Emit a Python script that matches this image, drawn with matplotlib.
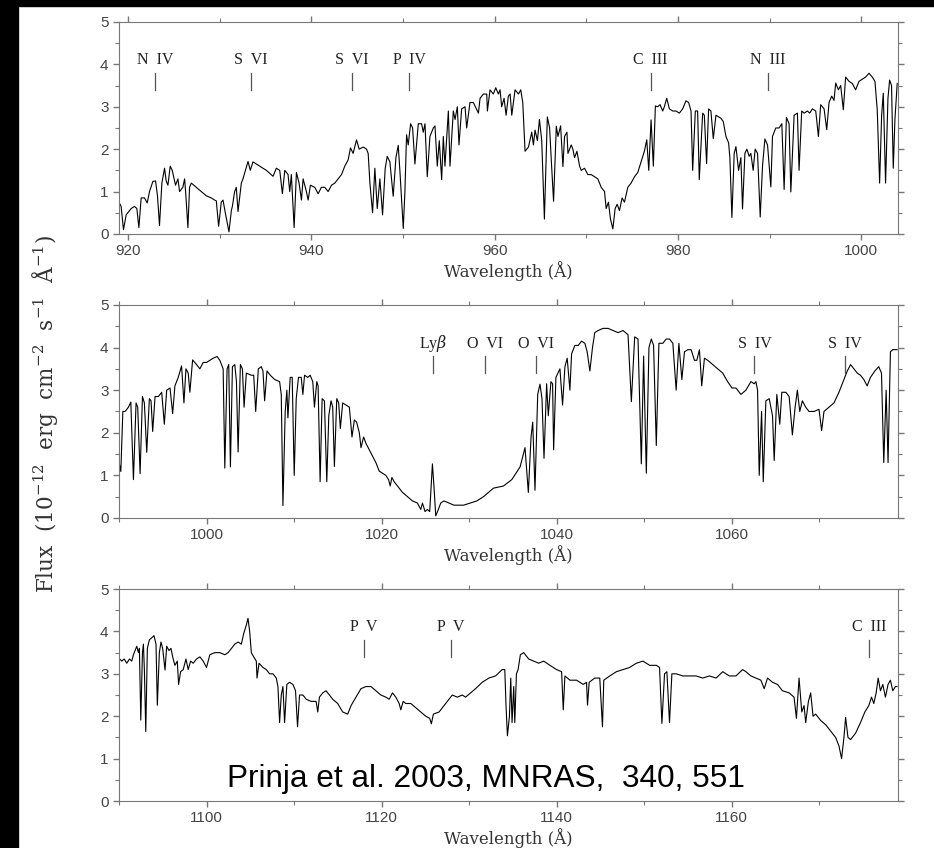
import matplotlib
matplotlib.use("Agg")
import matplotlib.pyplot as plt
from matplotlib.patches import Rectangle
from matplotlib.ticker import MultipleLocator

plt.rcParams['mathtext.fontset'] = 'dejavuserif'

# panel 1: 919 - 1004 A
wl1 = [919.0, 919.23, 919.49, 919.78, 920.33, 920.69, 920.95, 921.17, 921.42, 921.79,
       922.08, 922.33, 922.70, 922.99, 923.2, 923.42, 923.68, 923.97, 924.15, 924.34,
       924.59, 924.81, 925.17, 925.43, 925.61, 925.97, 926.16, 926.27, 926.52, 926.70,
       926.89, 927.43, 927.98, 928.53, 929.07, 929.43, 929.62, 929.87, 930.16, 930.35,
       930.6, 931.00, 931.26, 931.37, 931.62, 931.80, 931.99, 932.35, 932.53, 933.08,
       933.33, 933.62, 933.99, 934.35, 934.72, 935.08, 935.81, 936.17, 936.54, 936.83,
       937.09, 937.45, 937.63, 937.81, 938.11, 938.36, 938.65, 938.91, 939.09, 939.45,
       939.64, 939.89, 940.36, 940.73, 941.09, 941.46, 941.82, 942.19, 942.55, 942.91,
       943.28, 943.64, 944.01, 944.26, 944.55, 944.92, 945.21, 945.65, 946.01, 946.19,
       946.38, 946.67, 946.92, 947.18, 947.47, 947.76, 948.05, 948.27, 948.56, 948.92,
       949.22, 949.47, 949.65, 950.02, 950.20, 950.38, 950.56, 950.82, 951.04, 951.29,
       951.66, 952.02, 952.20, 952.39, 952.64, 952.93, 953.30, 953.48, 953.73, 953.95,
       954.21, 954.39, 954.57, 954.94, 955.12, 955.48, 955.67, 955.92, 956.10, 956.39,
       956.76, 956.94, 957.30, 957.67, 958.22, 958.40, 958.76, 959.13, 959.20, 959.49,
       959.85, 960.11, 960.40, 960.58, 960.76, 961.02, 961.24, 961.49, 961.68, 961.86,
       962.04, 962.22, 962.59, 962.84, 963.06, 963.31, 963.68, 964.04, 964.22, 964.40,
       964.66, 964.88, 965.13, 965.42, 965.74, 965.99, 966.17, 966.42, 966.72, 966.90,
       967.19, 967.44, 967.62, 967.88, 967.99, 968.35, 968.53, 968.71, 968.97, 969.26,
       969.44, 969.80, 970.16, 970.53, 970.89, 971.25, 971.62, 971.98, 972.16, 972.41,
       972.63, 972.89, 973.14, 973.36, 973.61, 973.90, 974.16, 974.52, 974.88, 975.25,
       975.61, 975.97, 976.33, 976.59, 976.81, 977.06, 977.31, 977.53, 977.79, 978.04,
       978.33, 978.51, 978.77, 979.06, 979.42, 979.78, 980.15, 980.51, 980.87, 981.16,
       981.42, 981.60, 981.89, 982.14, 982.32, 982.69, 982.87, 983.12, 983.34, 983.59,
       983.85, 984.14, 984.68, 984.94, 985.23, 985.52, 985.66, 985.88, 986.13, 986.32,
       986.61, 986.86, 987.04, 987.30, 987.51, 987.77, 987.95, 988.20, 988.42, 988.68,
       988.97, 989.22, 989.48, 989.77, 990.13, 990.31, 990.67, 991.03, 991.33, 991.58,
       991.83, 992.12, 992.31, 992.67, 993.03, 993.21, 993.50, 993.76, 994.12, 994.37,
       994.66, 995.03, 995.32, 995.57, 995.94, 996.23, 996.48, 996.77, 997.02, 997.21,
       997.50, 997.75, 998.04, 998.29, 998.66, 999.02, 999.38, 999.75, 1000.11, 1000.47,
       1000.84, 1001.20, 1001.49, 1001.74, 1002.00, 1002.22, 1002.40, 1002.65, 1002.91, 1003.09,
       1003.30, 1003.49, 1003.67, 1003.92]
fx1 = [0.75, 0.65, 0.10, 0.45, 0.60, 0.65, 0.60, 0.15, 0.85, 0.85,
       0.73, 1.00, 1.24, 1.25, 0.90, 0.20, 1.20, 1.55, 1.25, 1.15,
       1.60, 1.50, 1.15, 1.30, 1.00, 1.10, 1.30, 1.00, 0.15, 1.10,
       1.20, 1.10, 1.00, 0.90, 0.85, 0.80, 0.78, 0.18, 0.75, 0.80,
       0.50, 0.05, 0.55, 0.65, 1.00, 1.10, 0.53, 1.20, 1.30, 1.71,
       1.50, 1.70, 1.65, 1.60, 1.55, 1.50, 1.36, 1.55, 1.50, 0.95,
       1.50, 1.40, 1.00, 1.40, 0.15, 1.45, 1.20, 0.80, 1.30, 1.00,
       0.80, 1.15, 1.10, 0.95, 1.10, 1.10, 1.00, 1.15, 1.20, 1.30,
       1.40, 1.60, 1.75, 2.03, 1.90, 2.22, 2.00, 2.05, 2.00, 1.90,
       1.20, 0.50, 1.55, 0.60, 1.30, 0.45, 1.55, 1.83, 1.70, 0.89,
       1.80, 2.09, 1.50, 0.13, 1.00, 2.34, 2.10, 2.60, 2.50, 1.65,
       2.60, 2.60, 2.40, 2.60, 1.35, 2.30, 2.50, 2.55, 1.60, 2.20,
       1.28, 2.30, 1.60, 2.90, 1.60, 2.90, 2.70, 3.00, 2.10, 2.95,
       3.00, 2.50, 3.10, 3.10, 2.85, 3.20, 3.30, 3.30, 2.90, 3.40,
       3.30, 3.45, 3.30, 3.40, 3.00, 3.20, 2.80, 3.25, 3.30, 2.80,
       3.10, 3.40, 3.30, 3.40, 3.10, 1.95, 2.05, 2.40, 2.10, 2.45,
       2.20, 2.70, 2.20, 0.35, 2.76, 2.50, 1.75, 0.77, 2.54, 2.30,
       2.55, 1.59, 2.30, 2.40, 1.90, 2.10, 2.00, 1.80, 1.95, 1.60,
       1.50, 1.55, 1.40, 1.40, 1.35, 1.30, 1.10, 1.00, 0.60, 0.75,
       0.35, 0.12, 0.60, 0.70, 0.55, 0.85, 0.75, 1.10, 1.20, 1.35,
       1.45, 1.70, 1.95, 2.22, 1.50, 2.69, 1.60, 3.02, 3.00, 3.05,
       2.90, 3.00, 3.20, 2.95, 2.90, 2.90, 2.85, 2.95, 3.14, 3.10,
       2.90, 1.50, 2.90, 2.90, 1.28, 2.85, 2.80, 1.66, 2.95, 2.90,
       2.25, 2.80, 2.73, 2.65, 2.30, 2.15, 1.80, 0.39, 1.90, 2.06,
       1.50, 1.80, 0.59, 1.90, 2.00, 1.83, 1.90, 1.50, 2.00, 1.90,
       0.40, 1.60, 2.24, 2.10, 1.11, 2.30, 2.50, 2.50, 2.60, 1.05,
       2.75, 2.60, 0.99, 2.80, 2.85, 1.50, 2.90, 2.85, 2.90, 2.85,
       2.95, 2.90, 2.30, 3.05, 2.95, 2.46, 3.10, 3.25, 3.15, 3.56,
       3.40, 3.50, 2.93, 3.70, 3.60, 3.55, 3.40, 3.60, 3.65, 3.70,
       3.79, 3.70, 3.60, 2.93, 1.20, 2.80, 3.32, 1.20, 3.20, 3.63,
       3.50, 1.55, 2.70, 3.55]

# panel 2: 990 - 1079 A
wl2 = [990.02, 990.21, 990.44, 990.70, 991.08, 991.35, 991.65, 991.95, 992.14, 992.41,
       992.68, 992.90, 993.17, 993.47, 993.66, 993.85, 994.12, 994.50, 994.88, 995.18,
       995.45, 995.83, 996.13, 996.39, 996.77, 997.15, 997.42, 997.65, 997.91, 998.10,
       998.41, 998.86, 999.24, 999.62, 1000.00, 1000.38, 1000.76, 1001.21, 1001.52, 1001.90,
       1002.09, 1002.35, 1002.54, 1002.73, 1002.96, 1003.23, 1003.42, 1003.61, 1003.87, 1004.10,
       1004.29, 1004.55, 1005.12, 1005.39, 1005.62, 1005.92, 1006.26, 1006.45, 1006.64, 1006.91,
       1007.29, 1007.78, 1008.35, 1008.54, 1008.73, 1008.99, 1009.18, 1009.30, 1009.56, 1009.79,
       1010.02, 1010.25, 1010.51, 1010.82, 1011.01, 1011.20, 1011.57, 1011.84, 1012.14, 1012.33,
       1012.60, 1012.75, 1012.98, 1013.21, 1013.47, 1013.74, 1013.97, 1014.23, 1014.42, 1014.61,
       1014.88, 1015.10, 1015.29, 1015.56, 1015.94, 1016.32, 1016.62, 1016.89, 1017.15, 1017.46,
       1017.65, 1017.95, 1018.22, 1018.60, 1018.98, 1019.35, 1019.73, 1020.11, 1020.49, 1020.80,
       1020.99, 1021.18, 1021.44, 1021.82, 1022.39, 1022.96, 1023.53, 1024.10, 1024.48, 1024.67,
       1024.97, 1025.24, 1025.50, 1025.81, 1026.00, 1026.19, 1026.49, 1026.76, 1027.13, 1027.70,
       1028.27, 1029.37, 1030.89, 1031.65, 1032.79, 1033.93, 1034.88, 1035.83, 1036.39, 1036.77,
       1037.08, 1037.27, 1037.53, 1037.84, 1038.10, 1038.33, 1038.56, 1038.86, 1039.05, 1039.35,
       1039.54, 1039.66, 1039.92, 1040.38, 1040.68, 1040.95, 1041.21, 1041.52, 1041.71, 1042.09,
       1042.47, 1042.85, 1043.23, 1043.49, 1043.80, 1044.10, 1044.36, 1044.74, 1045.31, 1045.88,
       1046.45, 1047.02, 1047.59, 1048.16, 1048.54, 1048.92, 1049.30, 1049.68, 1049.94, 1050.25,
       1050.55, 1050.82, 1051.08, 1051.39, 1051.69, 1052.14, 1052.52, 1052.90, 1053.28, 1053.66,
       1053.97, 1054.31, 1054.61, 1054.99, 1055.37, 1055.75, 1056.02, 1056.32, 1056.58, 1056.89,
       1057.27, 1057.84, 1058.41, 1058.98, 1059.54, 1060.04, 1060.49, 1061.06, 1061.63, 1062.20,
       1062.58, 1062.77, 1062.96, 1063.15, 1063.42, 1063.61, 1063.91, 1064.29, 1064.67, 1064.86,
       1065.16, 1065.50, 1065.73, 1066.19, 1066.57, 1066.94, 1067.25, 1067.51, 1067.78, 1068.08,
       1068.46, 1068.84, 1069.41, 1069.98, 1070.28, 1070.55, 1071.12, 1071.69, 1072.26, 1072.83,
       1073.21, 1073.59, 1073.97, 1074.35, 1074.72, 1075.10, 1075.48, 1075.86, 1076.36, 1076.81,
       1077.12, 1077.38, 1077.65, 1077.87, 1078.14, 1078.41, 1078.71, 1078.90]
fx2 = [1.30, 1.09, 2.50, 2.50, 2.60, 2.72, 0.90, 2.70, 2.60, 1.04,
       2.85, 2.70, 1.54, 2.80, 2.75, 2.03, 2.85, 2.85, 2.95, 2.20,
       3.00, 3.05, 2.45, 3.10, 3.30, 3.57, 2.70, 3.50, 3.40, 2.95,
       3.71, 3.60, 3.50, 3.65, 3.65, 3.70, 3.75, 3.79, 3.70, 3.50,
       1.17, 3.50, 3.60, 1.20, 3.55, 3.60, 3.20, 1.55, 3.60, 3.50,
       2.60, 3.40, 3.35, 3.35, 2.50, 3.50, 3.55, 3.45, 2.75, 3.45,
       3.35, 3.25, 3.20, 2.90, 0.29, 2.50, 3.00, 2.35, 3.30, 3.30,
       1.00, 2.80, 3.30, 3.30, 2.90, 3.35, 3.30, 3.35, 3.20, 2.60,
       3.20, 3.10, 0.85, 2.80, 2.75, 0.85, 2.40, 2.75, 2.60, 1.21,
       2.80, 2.70, 2.10, 2.70, 2.65, 2.60, 1.90, 2.30, 2.25, 2.00,
       1.65, 1.90, 1.75, 1.60, 1.45, 1.30, 1.10, 1.05, 1.00, 0.90,
       0.75, 0.95, 0.85, 0.75, 0.60, 0.50, 0.40, 0.35, 0.20, 0.35,
       0.15, 0.20, 0.15, 1.27, 0.70, 0.05, 0.20, 0.35, 0.40, 0.35,
       0.30, 0.30, 0.40, 0.50, 0.70, 0.75, 0.90, 1.20, 1.65, 0.60,
       1.90, 2.25, 0.65, 2.90, 3.14, 2.80, 1.40, 3.15, 2.40, 3.20,
       3.15, 1.60, 3.30, 3.50, 2.65, 3.55, 3.75, 3.00, 3.85, 4.05,
       4.05, 4.15, 4.10, 3.90, 3.45, 4.00, 4.35, 4.40, 4.45, 4.45,
       4.40, 4.35, 4.40, 4.30, 2.73, 4.25, 4.20, 1.27, 3.80, 1.05,
       4.00, 4.20, 4.05, 1.70, 4.10, 4.10, 4.20, 4.20, 4.10, 3.00,
       4.10, 3.25, 3.90, 3.95, 3.95, 3.70, 3.70, 3.95, 3.10, 3.75,
       3.70, 3.60, 3.50, 3.40, 3.20, 3.05, 3.05, 2.90, 3.00, 3.20,
       3.15, 3.20, 3.00, 1.00, 2.50, 0.85, 2.75, 2.80, 2.40, 1.35,
       2.90, 2.20, 2.95, 2.95, 2.85, 1.95, 2.60, 3.00, 2.50, 2.75,
       2.60, 2.50, 2.50, 2.55, 2.05, 2.50, 2.60, 2.70, 2.95, 3.25,
       3.45, 3.60, 3.50, 3.40, 3.35, 3.25, 3.10, 3.30, 3.45, 3.55,
       3.40, 1.30, 3.00, 1.30, 3.90, 3.95, 3.95, 3.95]

# panel 3: 1090 - 1179 A
wl3 = [1090.02, 1090.32, 1090.59, 1090.89, 1091.20, 1091.46, 1091.65, 1091.84, 1092.03, 1092.22,
       1092.33, 1092.49, 1092.68, 1092.79, 1092.90, 1093.06, 1093.24, 1093.47, 1093.74, 1094.00,
       1094.23, 1094.38, 1094.61, 1094.80, 1094.99, 1095.26, 1095.45, 1095.71, 1095.94, 1096.13,
       1096.39, 1096.66, 1096.81, 1097.04, 1097.34, 1097.65, 1097.91, 1098.18, 1098.48, 1098.86,
       1099.24, 1099.62, 1100.00, 1100.38, 1100.95, 1101.52, 1102.09, 1102.47, 1102.85, 1103.23,
       1103.61, 1103.98, 1104.25, 1104.55, 1104.74, 1104.93, 1105.12, 1105.39, 1105.69, 1105.77,
       1106.00, 1106.45, 1106.83, 1107.21, 1107.59, 1107.97, 1108.16, 1108.35, 1108.54, 1108.73,
       1108.92, 1109.18, 1109.49, 1109.87, 1110.17, 1110.40, 1110.63, 1111.01, 1111.39, 1111.95,
       1112.52, 1112.71, 1112.90, 1113.28, 1113.66, 1114.04, 1114.42, 1114.99, 1115.56, 1116.13,
       1116.51, 1117.08, 1117.65, 1118.22, 1118.79, 1119.35, 1119.92, 1120.49, 1120.87, 1121.25,
       1121.63, 1122.01, 1122.20, 1122.47, 1122.77, 1123.34, 1123.91, 1124.48, 1125.05, 1125.50,
       1125.69, 1125.92, 1126.57, 1127.32, 1128.08, 1128.65, 1129.22, 1129.60, 1130.17, 1130.74,
       1131.50, 1132.26, 1133.02, 1133.78, 1134.08, 1134.23, 1134.38, 1134.61, 1134.76, 1134.91,
       1135.10, 1135.22, 1135.41, 1135.60, 1135.86, 1136.24, 1136.81, 1137.38, 1137.95, 1138.52,
       1139.24, 1140.00, 1140.57, 1140.76, 1140.95, 1141.52, 1142.28, 1143.04, 1143.42, 1143.53,
       1143.72, 1144.36, 1144.93, 1145.24, 1145.39, 1146.07, 1146.83, 1147.59, 1148.35, 1149.11,
       1149.87, 1150.63, 1151.39, 1151.76, 1152.03, 1152.33, 1152.60, 1152.90, 1153.17, 1153.66,
       1154.42, 1155.18, 1155.94, 1156.70, 1157.46, 1158.22, 1158.98, 1159.73, 1160.49, 1161.25,
       1161.63, 1162.20, 1162.77, 1163.34, 1163.72, 1164.10, 1164.67, 1165.24, 1165.81, 1166.57,
       1167.13, 1167.40, 1167.70, 1168.01, 1168.27, 1168.46, 1168.77, 1169.03, 1169.30, 1169.60,
       1170.17, 1170.74, 1171.31, 1171.88, 1172.26, 1172.56, 1172.83, 1173.02, 1173.29, 1173.59,
       1174.16, 1174.72, 1175.22, 1175.67, 1175.98, 1176.24, 1176.51, 1176.74, 1177.00, 1177.27,
       1177.57, 1177.87, 1178.14, 1178.41, 1178.71, 1178.90]
fx3 = [3.36, 3.30, 3.35, 3.25, 3.35, 3.30, 3.45, 3.55, 3.65, 3.50,
       3.60, 1.91, 3.50, 3.70, 3.10, 1.64, 3.60, 3.80, 3.85, 3.90,
       3.70, 2.26, 3.50, 3.75, 3.60, 3.09, 3.65, 3.55, 3.60, 3.40,
       3.20, 3.30, 2.75, 3.05, 3.10, 3.35, 3.10, 3.30, 3.25, 3.35,
       3.40, 3.30, 3.15, 3.45, 3.50, 3.50, 3.45, 3.50, 3.60, 3.70,
       3.75, 3.70, 3.95, 4.15, 4.31, 4.00, 3.50, 3.40, 3.30, 2.90,
       3.25, 3.15, 3.10, 3.00, 3.00, 2.90, 2.70, 1.85, 2.50, 2.70,
       1.85, 2.75, 2.80, 2.75, 2.60, 1.75, 2.50, 2.50, 2.40, 2.35,
       2.35, 2.10, 2.45, 2.55, 2.60, 2.50, 2.40, 2.30, 2.10, 2.05,
       2.25, 2.45, 2.65, 2.70, 2.70, 2.60, 2.50, 2.45, 2.40, 2.55,
       2.45, 2.30, 2.15, 2.35, 2.30, 2.30, 2.20, 2.10, 2.00, 1.95,
       1.82, 2.05, 2.10, 2.30, 2.50, 2.45, 2.50, 2.45, 2.55, 2.65,
       2.80, 2.90, 2.95, 3.10, 3.10, 2.20, 1.54, 2.00, 2.90, 1.85,
       2.70, 1.85, 3.00, 3.10, 3.45, 3.50, 3.35, 3.30, 3.25, 3.30,
       3.20, 3.10, 3.05, 2.15, 2.95, 2.85, 2.85, 2.75, 2.80, 2.26,
       2.80, 2.90, 2.90, 1.75, 2.85, 2.95, 3.05, 3.10, 3.15, 3.25,
       3.30, 3.20, 3.20, 3.15, 1.83, 3.00, 3.05, 1.85, 3.00, 3.00,
       2.95, 2.95, 2.95, 2.90, 2.95, 2.90, 3.05, 2.95, 2.95, 3.10,
       3.05, 2.95, 2.90, 2.85, 2.65, 2.90, 2.80, 2.75, 2.60, 2.55,
       2.45, 1.95, 2.90, 2.10, 2.25, 1.85, 2.35, 2.55, 2.00, 2.05,
       1.90, 1.80, 1.65, 1.50, 1.30, 1.00, 1.50, 1.97, 1.50, 1.45,
       1.60, 1.85, 2.10, 2.25, 2.45, 2.30, 2.55, 2.90, 2.60, 2.75,
       2.45, 2.75, 2.85, 2.60, 2.70, 2.70]

# line identifications
ions1 = ['N  IV', 'S  VI', 'S  VI', 'P  IV', 'C  III', 'N  III']
ion_wl1 = [922.95, 933.4, 944.4, 950.7, 977.0, 989.8]
ions2 = [r'Ly$\beta$', 'O  VI', 'O  VI', 'S  IV', 'S  IV']
ion_wl2 = [1025.9, 1031.8, 1037.6, 1062.6, 1072.9]
ions3 = ['P  V', 'P  V', 'C  III']
ion_wl3 = [1118.0, 1127.9, 1175.7]

panels = [(wl1, fx1, (919, 1004), ions1, ion_wl1),
          (wl2, fx2, (990, 1079), ions2, ion_wl2),
          (wl3, fx3, (1090, 1179), ions3, ion_wl3)]
boxes = [[0.1274, 0.7241, 0.834, 0.250],
         [0.1274, 0.3892, 0.834, 0.2512],
         [0.1274, 0.0554, 0.834, 0.250]]

fig = plt.figure(figsize=(9.34, 8.48), dpi=100)

for box, (wl, fx, xlim, ions, iwl) in zip(boxes, panels):
    ax = fig.add_axes(box)
    ax.plot(wl, fx, color='k', lw=0.8)
    ax.set_xlim(xlim)
    ax.set_ylim(0, 5)
    ax.xaxis.set_major_locator(MultipleLocator(20))
    ax.xaxis.set_minor_locator(MultipleLocator(10))
    ax.yaxis.set_major_locator(MultipleLocator(1))
    ax.yaxis.set_minor_locator(MultipleLocator(0.5))
    ax.tick_params(which='both', direction='out', top=True, right=True,
                   color='#777', labelcolor='#444', labelsize=11)
    ax.tick_params(which='major', length=4.5, width=1, pad=3)
    ax.tick_params(which='minor', length=3, width=0.8)
    for lab in ax.get_xticklabels() + ax.get_yticklabels():
        lab.set_family('Liberation Sans')
    for s in ax.spines.values():
        s.set_color('#777')
    ax.set_xlabel('Wavelength (Å)', family='DejaVu Serif', fontsize=12,
                  color='#333', labelpad=2)
    for name, w in zip(ions, iwl):
        ax.plot([w, w], [3.4, 3.8], color='#555', lw=0.9)
        ax.text(w, 4.0, name, ha='center', va='baseline',
                family='Liberation Serif', fontsize=11.5, color='#222')

fig.text(0.048, 0.512,
         'Flux  (10$^{-12}$  erg  cm$^{-2}$  s$^{-1}$  Å$^{-1}$)',
         rotation=90, ha='center', va='center', family='DejaVu Serif',
         fontsize=15.5, color='#333')

fig.text(0.52, 0.072, 'Prinja et al. 2003, MNRAS,  340, 551',
         ha='center', va='baseline', family='Liberation Sans', fontsize=22.7)

# black frame along the left and top edges of the scan
fig.add_artist(Rectangle((0, 0), 18 / 934, 1, transform=fig.transFigure,
                         color='k', zorder=10))
fig.add_artist(Rectangle((0, 1 - 6 / 848), 1, 6 / 848, transform=fig.transFigure,
                         color='k', zorder=10))

fig.savefig('out.png', dpi=100)
